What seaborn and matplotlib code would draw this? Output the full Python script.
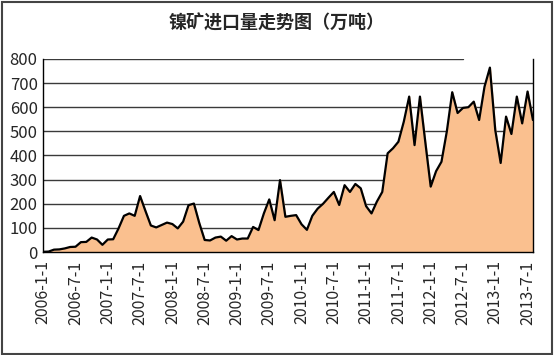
import matplotlib
matplotlib.use("Agg")
import matplotlib.pyplot as plt
import numpy as np
import seaborn as sns
import pandas as pd
from matplotlib.patches import Rectangle

# monthly nickel ore imports, 2006-01 .. 2013-08 (10k tonnes)
import_volume = [1, 2, 10, 11, 15, 21, 22, 41, 42, 60,
                 52, 30, 52, 53, 98, 150, 160, 150, 232, 170,
                 110, 102, 112, 122, 116, 98, 126, 194, 201, 120,
                 50, 48, 60, 64, 47, 66, 52, 56, 56, 104,
                 91, 160, 218, 132, 298, 146, 150, 153, 115, 92,
                 150, 180, 200, 225, 249, 195, 277, 249, 282, 264,
                 190, 160, 209, 249, 409, 430, 457, 540, 644, 443,
                 644, 455, 271, 335, 374, 500, 662, 576, 597, 600,
                 623, 547, 685, 764, 505, 369, 561, 489, 644, 533,
                 665, 547]
tick_labels = ['2006-1-1', '2006-7-1', '2007-1-1', '2007-7-1', '2008-1-1',
               '2008-7-1', '2009-1-1', '2009-7-1', '2010-1-1', '2010-7-1',
               '2011-1-1', '2011-7-1', '2012-1-1', '2012-7-1', '2013-1-1',
               '2013-7-1']
y_ticks = [0, 100, 200, 300, 400, 500, 600, 700, 800]
title = '镍矿进口量走势图（万吨）'

df = pd.DataFrame({'month': np.arange(len(import_volume)), 'volume': import_volume})

sns.set_style("white")
plt.rcParams['font.family'] = ['Noto Sans CJK SC', 'DejaVu Sans']

fig = plt.figure(figsize=(5.54, 3.55), dpi=100)
ax = fig.add_axes([0.078, 0.290, 0.884, 0.544])

# gridlines (top one stops short like in the original)
for v in y_ticks[1:-1]:
    ax.axhline(v, color='#3a3a3a', lw=1.0, zorder=1)
ax.axhline(800, xmax=0.857, color='#3a3a3a', lw=1.0, zorder=1)

ax.fill_between(df['month'], df['volume'], color='#FAC08F', zorder=2)
sns.lineplot(data=df, x='month', y='volume', color='black', lw=1.6, ax=ax, zorder=3)

ax.set_xlim(0, len(import_volume) - 1)
ax.set_ylim(0, 800)
ax.set_yticks(y_ticks)
ax.set_yticklabels([str(v) for v in y_ticks], fontsize=12)
ax.set_xticks(np.arange(0, len(import_volume), 6))
ax.set_xticklabels(tick_labels, rotation=90, fontsize=11.5)
ax.tick_params(axis='y', length=0, pad=4)
ax.tick_params(axis='x', length=3, width=1, color='black', direction='out', pad=3)
ax.set_xlabel('')
ax.set_ylabel('')

for s in ['left', 'bottom', 'right']:
    ax.spines[s].set_visible(True)
    ax.spines[s].set_color('black')
    ax.spines[s].set_linewidth(1.0)
ax.spines['top'].set_visible(False)

fig.text(0.5, 0.935, title, ha='center', va='center', fontsize=13, fontweight='bold')

fig.patches.append(Rectangle((0.003, 0.004), 0.994, 0.99, transform=fig.transFigure,
                             fill=False, edgecolor='#444444', lw=1.5))

fig.savefig('out.png', dpi=100)
